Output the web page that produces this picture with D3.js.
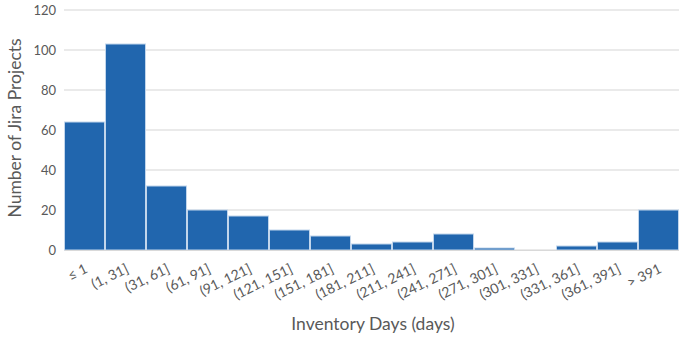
<!DOCTYPE html>
<html>
<head>
<meta charset="utf-8">
<script src="https://cdn.jsdelivr.net/npm/d3@7"></script>
<style>
  html, body { margin: 0; padding: 0; background: #fff; }
  svg { display: block; }
</style>
</head>
<body>
<svg id="chart" width="679" height="341"></svg>
<script>
// Inventory-day buckets and project counts
const categories = ["\u2264 1", "(1, 31]", "(31, 61]", "(61, 91]", "(91, 121]", "(121, 151]",
  "(151, 181]", "(181, 211]", "(211, 241]", "(241, 271]", "(271, 301]", "(301, 331]",
  "(331, 361]", "(361, 391]", "> 391"];
const counts = [64, 103, 32, 20, 17, 10, 7, 3, 4, 8, 1, 0, 2, 4, 20];
const yTicks = [0, 20, 40, 60, 80, 100, 120];

const svg = d3.select("#chart");
const margin = { left: 64, right: 0, top: 10, bottom: 91 };
const W = 679, H = 341;
const font = "Lato, 'Open Sans', sans-serif";

const x = d3.scaleBand().domain(categories).range([margin.left, W - margin.right]).padding(0);
const y = d3.scaleLinear().domain([0, 120]).range([H - margin.bottom, margin.top]);

// horizontal gridlines
svg.append("g")
  .selectAll("line")
  .data(yTicks)
  .join("line")
  .attr("x1", margin.left)
  .attr("x2", W - margin.right)
  .attr("y1", d => y(d))
  .attr("y2", d => y(d))
  .attr("stroke", "#e3e3e3")
  .attr("stroke-width", 1.3);

// bars
svg.append("g")
  .selectAll("rect")
  .data(counts)
  .join("rect")
  .attr("x", (d, i) => x(categories[i]) + 0.5)
  .attr("y", d => y(d))
  .attr("width", x.bandwidth() - 1)
  .attr("height", d => y(0) - y(d))
  .attr("fill", "#2166ae")
  .attr("stroke", "#c2d6ec")
  .attr("stroke-width", 1);

// y axis tick labels
const yAxis = d3.axisLeft(y).tickValues(yTicks).tickSize(0).tickPadding(0);
const gy = svg.append("g").attr("transform", `translate(56,0)`).call(yAxis);
gy.select(".domain").remove();
gy.selectAll("text")
  .attr("font-family", font)
  .attr("font-size", 13)
  .attr("fill", "#595959");

// x axis tick labels, slanted
const xAxis = d3.axisBottom(x).tickSize(0).tickPadding(0);
const gx = svg.append("g").attr("transform", `translate(0,${y(0)})`).call(xAxis);
gx.select(".domain").attr("stroke", "#d9d9d9");
gx.selectAll("text")
  .attr("font-family", font)
  .attr("font-size", 14)
  .attr("fill", "#595959")
  .attr("text-anchor", "end")
  .attr("dy", null)
  .attr("y", 0)
  .attr("transform", "translate(4,22) rotate(-26)");

// axis titles
svg.append("text")
  .attr("x", 373)
  .attr("y", 330)
  .attr("text-anchor", "middle")
  .attr("font-family", font)
  .attr("font-size", 17.5)
  .attr("fill", "#595959")
  .text("Inventory Days (days)");

svg.append("text")
  .attr("transform", "translate(21,128) rotate(-90)")
  .attr("text-anchor", "middle")
  .attr("font-family", font)
  .attr("font-size", 17.5)
  .attr("fill", "#595959")
  .text("Number of Jira Projects");
</script>
</body>
</html>
